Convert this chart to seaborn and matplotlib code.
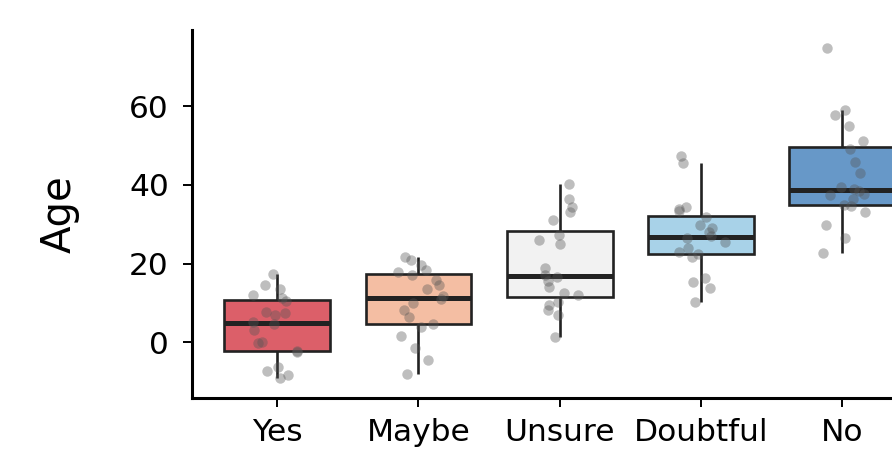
import numpy as np
import pandas as pd
import matplotlib
matplotlib.use("Agg")
import matplotlib.pyplot as plt
import seaborn as sns

# categories (x axis, in order)
answers = ["Yes", "Maybe", "Unsure", "Doubtful", "No"]

# ages, 20 per group
age_yes = [-9.2, -8.4, -7.3, -6.2, -2.6, -2.2, -0.3, 0.0, 3.0, 4.6,
           5.2, 6.9, 7.3, 7.6, 10.5, 11.3, 12.0, 13.4, 14.5, 17.4]
age_maybe = [-8.0, -4.6, -1.5, 1.5, 3.9, 4.7, 6.4, 8.1, 10.0, 10.9,
             11.7, 13.5, 14.5, 15.8, 17.1, 17.9, 18.4, 19.6, 20.9, 21.7]
age_unsure = [1.4, 6.9, 8.1, 9.4, 10.3, 11.9, 12.4, 14.0, 15.5, 16.6,
              17.2, 18.8, 25.0, 26.0, 27.2, 31.2, 33.0, 34.4, 36.3, 40.2]
age_doubtful = [10.3, 13.7, 15.3, 16.2, 21.7, 22.5, 23.0, 24.0, 25.5, 26.5,
                27.1, 28.1, 29.0, 29.8, 31.8, 33.3, 33.8, 34.4, 45.6, 47.4]
age_no = [22.6, 26.4, 29.8, 33.0, 34.6, 35.0, 36.5, 37.4, 37.8, 38.4,
          39.0, 39.5, 43.0, 45.9, 49.2, 51.2, 55.0, 57.8, 59.0, 74.7]

box_colors = ["#DC5F69", "#F4BEA3", "#F2F2F2", "#A8D2E8", "#6798C8"]

df = pd.DataFrame({
    "answer": (["Yes"] * len(age_yes) + ["Maybe"] * len(age_maybe)
               + ["Unsure"] * len(age_unsure) + ["Doubtful"] * len(age_doubtful)
               + ["No"] * len(age_no)),
    "Age": age_yes + age_maybe + age_unsure + age_doubtful + age_no,
})

sns.set_style("ticks")
plt.rcParams["font.family"] = ["DejaVu Sans"]

fig = plt.figure(figsize=(8.92, 4.53), dpi=100)
# the original is cropped on the right, so the axes run past the figure edge
ax = fig.add_axes([0.2158, 0.1214, 0.8234, 0.8124])

line_col = "#222222"
sns.boxplot(data=df, x="answer", y="Age", hue="answer", order=answers,
            hue_order=answers, palette=box_colors, legend=False,
            width=0.75, showfliers=False, showcaps=False, linewidth=1.9,
            linecolor=line_col, saturation=1,
            whiskerprops={"linewidth": 1.9, "color": line_col},
            medianprops={"linewidth": 3.6, "color": line_col},
            ax=ax)

np.random.seed(3)
sns.stripplot(data=df, x="answer", y="Age", order=answers, color="#555555",
              alpha=0.38, size=7.5, jitter=0.18, linewidth=0, zorder=3, ax=ax)

ax.set_xlim(-0.6, 4.6)
ax.set_ylim(-14.2, 79.4)
ax.set_yticks([0, 20, 40, 60])
ax.set_xlabel("")
ax.set_ylabel("Age", fontsize=29, color="black")
ax.yaxis.set_label_coords(-0.153, 0.5)

sns.despine(ax=ax)
for side in ["left", "bottom"]:
    ax.spines[side].set_linewidth(2.2)
    ax.spines[side].set_color("black")
ax.tick_params(axis="both", length=6.5, width=1.4, colors="black",
               labelsize=22.5)
ax.tick_params(axis="y", pad=10.5)
ax.tick_params(axis="x", pad=8)

fig.savefig("out.png", dpi=100)
